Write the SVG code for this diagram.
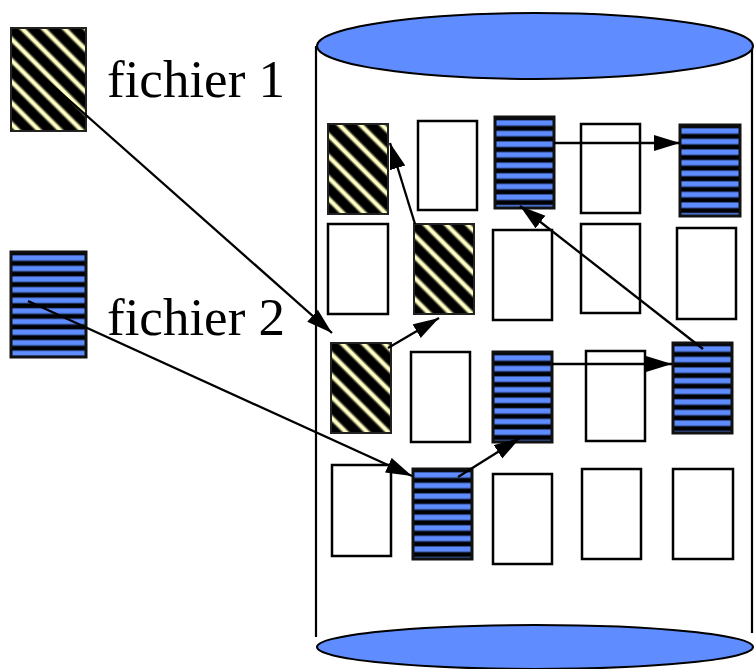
<svg xmlns="http://www.w3.org/2000/svg" width="754" height="669" viewBox="0 0 754 669">
<defs>
<linearGradient id="gStripe" x1="0" y1="0" x2="0" y2="1">
<stop offset="0" stop-color="#000"/>
<stop offset="0.22" stop-color="#000"/>
<stop offset="0.32" stop-color="#3a5aa8"/>
<stop offset="0.4" stop-color="#5F8DFF"/>
<stop offset="0.72" stop-color="#5F8DFF"/>
<stop offset="0.82" stop-color="#3a5aa8"/>
<stop offset="0.9" stop-color="#000"/>
<stop offset="1" stop-color="#000"/>
</linearGradient>
<pattern id="pStripe" patternUnits="userSpaceOnUse" x="0" y="0" width="800" height="10.6">
<rect x="0" y="0" width="800" height="10.6" fill="url(#gStripe)"/>
</pattern>
<linearGradient id="gHatch" x1="0" y1="0" x2="1" y2="0">
<stop offset="0" stop-color="#000"/>
<stop offset="0.27" stop-color="#000"/>
<stop offset="0.43" stop-color="#FFFFC4"/>
<stop offset="0.57" stop-color="#FFFFC4"/>
<stop offset="0.73" stop-color="#000"/>
<stop offset="1" stop-color="#000"/>
</linearGradient>
<pattern id="pHatch" patternUnits="userSpaceOnUse" x="0" y="0" width="15" height="15" patternTransform="rotate(-45)">
<rect x="0" y="0" width="15" height="15" fill="url(#gHatch)"/>
</pattern>
<marker id="arrow" markerUnits="userSpaceOnUse" markerWidth="28" markerHeight="18" refX="26" refY="8" orient="auto">
<path d="M0,0 L26,8 L0,16 z" fill="#000"/>
</marker>
<style>
.disk{fill:#5F8DFF;stroke:#000;stroke-width:2}
.side{stroke:#000;stroke-width:2.2;fill:none}
.empty{fill:#fff;stroke:#000;stroke-width:2.5}
.striped{fill:url(#pStripe);stroke:#111;stroke-width:3}
.hatched{fill:url(#pHatch);stroke:#222;stroke-width:2}
.conn line{stroke:#000;stroke-width:2.3;marker-end:url(#arrow)}
.label{font-family:"Liberation Serif","Times New Roman",serif;font-size:53px;fill:#000}
</style>
</defs>
<rect width="754" height="669" fill="#fff"/>

<g id="disk">
<line class="side" x1="316" y1="46" x2="316" y2="637"/>
<line class="side" x1="752" y1="46" x2="752" y2="633"/>
<ellipse class="disk" cx="535" cy="46" rx="218" ry="33"/>
<ellipse class="disk" cx="535" cy="647" rx="218" ry="22"/>
</g>

<g id="fichier1">
<g transform="translate(11,28)"><rect class="hatched" width="75" height="103"/></g>
<text class="label" x="107" y="97">fichier 1</text>
</g>
<g id="fichier2">
<g transform="translate(11,252)"><rect class="striped" width="75" height="105"/></g>
<text class="label" x="107" y="335">fichier 2</text>
</g>

<g id="blocks">
<g id="b11" transform="translate(328,124)"><rect class="hatched" width="60" height="90"/></g>
<g id="b12" transform="translate(418,121)"><rect class="empty" width="59" height="89"/></g>
<g id="b13" transform="translate(495,117)"><rect class="striped" width="59" height="91"/></g>
<g id="b14" transform="translate(581,124)"><rect class="empty" width="59" height="89"/></g>
<g id="b15" transform="translate(680,125)"><rect class="striped" width="60" height="91"/></g>

<g id="b21" transform="translate(328,224)"><rect class="empty" width="60" height="90"/></g>
<g id="b22" transform="translate(414,224)"><rect class="hatched" width="60" height="90"/></g>
<g id="b23" transform="translate(493,230)"><rect class="empty" width="59" height="90"/></g>
<g id="b24" transform="translate(581,224)"><rect class="empty" width="59" height="89"/></g>
<g id="b25" transform="translate(677,228)"><rect class="empty" width="59" height="91"/></g>

<g id="b31" transform="translate(331,343)"><rect class="hatched" width="60" height="90"/></g>
<g id="b32" transform="translate(411,352)"><rect class="empty" width="59" height="90"/></g>
<g id="b33" transform="translate(493,352)"><rect class="striped" width="59" height="90"/></g>
<g id="b34" transform="translate(586,351)"><rect class="empty" width="59" height="90"/></g>
<g id="b35" transform="translate(673,343)"><rect class="striped" width="59" height="90"/></g>

<g id="b41" transform="translate(332,465)"><rect class="empty" width="59" height="91"/></g>
<g id="b42" transform="translate(413,469)"><rect class="striped" width="59" height="90"/></g>
<g id="b43" transform="translate(493,474)"><rect class="empty" width="59" height="90"/></g>
<g id="b44" transform="translate(582,469)"><rect class="empty" width="59" height="90"/></g>
<g id="b45" transform="translate(673,469)"><rect class="empty" width="60" height="90"/></g>
</g>

<g id="connectors" class="conn">
<line x1="43" y1="77" x2="332" y2="333"/>
<line x1="388" y1="348" x2="439" y2="318"/>
<line x1="415" y1="224" x2="390" y2="143"/>
<line x1="28" y1="301" x2="412" y2="476"/>
<line x1="458" y1="477" x2="520" y2="438"/>
<line x1="552" y1="364" x2="672" y2="364"/>
<line x1="703" y1="349" x2="520" y2="206"/>
<line x1="554" y1="143" x2="680" y2="143"/>
</g>
</svg>
